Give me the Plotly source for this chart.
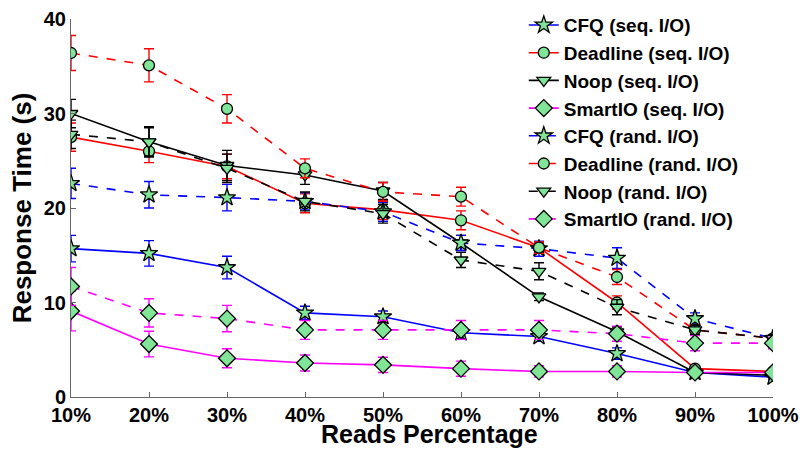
import plotly.graph_objects as go

x_vals = [10, 20, 30, 40, 50, 60, 70, 80, 90, 100]
tick_labels = ["10%", "20%", "30%", "40%", "50%", "60%", "70%", "80%", "90%", "100%"]

cfq_seq = [15.7, 15.2, 13.7, 8.9, 8.5, 6.8, 6.4, 4.6, 2.6, 2.1]
deadline_seq = [27.5, 26.0, 24.4, 20.5, 19.8, 18.7, 15.8, 10.0, 3.0, 2.7]
noop_seq = [30.0, 27.0, 24.5, 23.5, 21.8, 16.3, 10.6, 6.9, 2.6, 2.3]
smartio_seq = [9.1, 5.6, 4.1, 3.6, 3.4, 3.0, 2.7, 2.7, 2.6, 2.6]
cfq_rand = [22.6, 21.4, 21.1, 20.7, 19.6, 16.3, 15.7, 14.7, 8.3, 6.2]
deadline_rand = [36.4, 35.1, 30.5, 24.2, 21.7, 21.2, 15.8, 12.7, 7.1, 6.2]
noop_rand = [27.8, 27.0, 24.2, 20.7, 19.4, 14.5, 13.3, 9.5, 7.1, 6.2]
smartio_rand = [11.7, 8.9, 8.3, 7.1, 7.1, 7.1, 7.1, 6.7, 5.7, 5.7]

cfq_seq_err = [1.4, 1.35, 1.2, 0.7, 0.6, 0.6, 0.5, 0.6, 0.3, 0.3]
deadline_seq_err = [1.5, 1.2, 1.3, 1.0, 1.0, 1.0, 0.5, 0.7, 0.3, 0.3]
noop_seq_err = [1.5, 1.6, 1.6, 1.0, 0.9, 0.8, 0.4, 0.5, 0.3, 0.3]
smartio_seq_err = [2.1, 1.35, 1.0, 0.85, 0.8, 0.8, 0.6, 0.6, 0.4, 0.4]
cfq_rand_err = [1.6, 1.4, 1.4, 0.9, 1.0, 0.8, 0.8, 1.1, 0.6, 0.3]
deadline_rand_err = [1.85, 1.75, 1.5, 1.0, 1.0, 1.0, 0.6, 0.8, 0.5, 0.4]
noop_rand_err = [1.5, 1.5, 1.5, 1.0, 1.0, 0.8, 0.9, 0.8, 0.5, 0.4]
smartio_rand_err = [2.0, 1.5, 1.4, 1.0, 1.0, 1.0, 1.0, 0.8, 0.8, 0.6]

series = [
    ("CFQ (seq. I/O)", cfq_seq, cfq_seq_err, "#0000FF", "solid", "star", 13),
    ("Deadline (seq. I/O)", deadline_seq, deadline_seq_err, "#FF0000", "solid", "circle", 11),
    ("Noop (seq. I/O)", noop_seq, noop_seq_err, "#000000", "solid", "triangle-down", 12),
    ("SmartIO (seq. I/O)", smartio_seq, smartio_seq_err, "#FF00FF", "solid", "diamond", 13),
    ("CFQ (rand. I/O)", cfq_rand, cfq_rand_err, "#0000FF", "dash", "star", 13),
    ("Deadline (rand. I/O)", deadline_rand, deadline_rand_err, "#FF0000", "dash", "circle", 11),
    ("Noop (rand. I/O)", noop_rand, noop_rand_err, "#000000", "dash", "triangle-down", 12),
    ("SmartIO (rand. I/O)", smartio_rand, smartio_rand_err, "#FF00FF", "dash", "diamond", 13),
]

MARKER_FILL = "#80E597"
FONT = "Liberation Sans, Arial, Helvetica, sans-serif"

fig = go.Figure()
for i, (name, ys, errs, color, dash, symbol, size) in enumerate(series):
    fig.add_trace(go.Scatter(
        x=x_vals, y=ys, name=name, mode="lines+markers",
        line=dict(color=color, width=1.6, dash=dash),
        marker=dict(symbol=symbol, size=size, color=MARKER_FILL,
                    line=dict(color="black", width=1.3)),
        error_y=dict(type="data", array=errs, visible=True, color=color,
                     thickness=1.4, width=5),
    ))

fig.update_layout(
    width=804, height=449,
    margin=dict(l=71, r=31, t=19, b=52, autoexpand=False),
    paper_bgcolor="white", plot_bgcolor="white",
    font=dict(family=FONT, color="black", weight="bold"),
    showlegend=True,
    legend=dict(
        x=0.645, y=1.034, xanchor="left", yanchor="top",
        font=dict(size=19, family=FONT, weight="bold"),
        bgcolor="rgba(0,0,0,0)", borderwidth=0,
        itemwidth=30, maxheight=440,
    ),
    annotations=[dict(
        text="Reads Percentage", xref="paper", yref="paper",
        x=0.511, y=-0.099, xanchor="center", yanchor="middle", showarrow=False,
        borderpad=0,
        font=dict(size=25, family=FONT, weight="bold", color="black"),
    )],
)
fig.update_xaxes(
    range=[10, 100], tickmode="array", tickvals=x_vals, ticktext=tick_labels,
    showgrid=False, zeroline=False, showline=True, linecolor="#666666", linewidth=1,
    ticks="inside", ticklen=5, tickcolor="#666666",
    tickfont=dict(size=20, family=FONT, weight="bold"),
)
fig.update_yaxes(
    range=[0, 40], tickvals=[0, 10, 20, 30, 40],
    showgrid=False, zeroline=False, showline=True, linecolor="#666666", linewidth=1,
    ticks="inside", ticklen=5, tickcolor="#666666",
    tickfont=dict(size=20, family=FONT, weight="bold"),
    title=dict(text="Response Time (s)", font=dict(size=26, family=FONT, weight="bold"), standoff=4),
)

fig.write_html("out.html")
